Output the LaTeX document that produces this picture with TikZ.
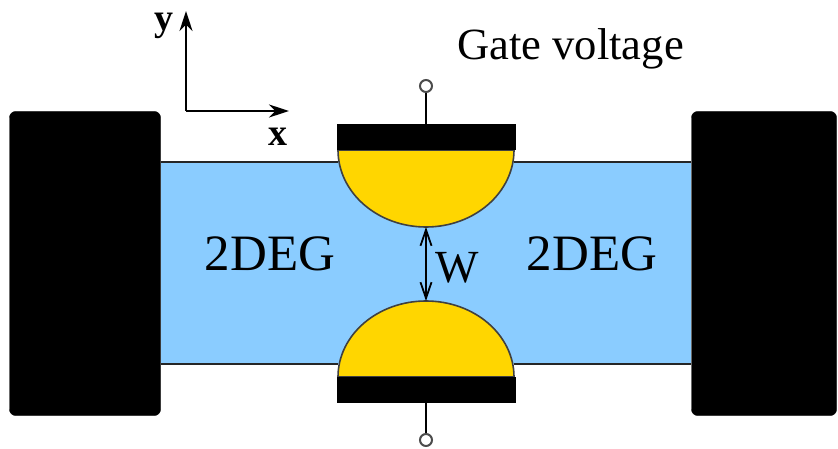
\documentclass[tikz,border=0pt]{standalone}
\usepackage{fontspec}
\setmainfont{Liberation Serif}
\usetikzlibrary{arrows.meta}
\definecolor{chan}{RGB}{138,204,255}
\definecolor{gold}{RGB}{255,214,0}
\tikzset{
  contact/.style={fill=black,draw=black,rounded corners=6pt,inner sep=0pt,minimum width=#1,minimum height=304pt},
  gatebar/.style={fill=black,draw=none,inner sep=0pt,minimum width=179pt,minimum height=26pt},
  terminal/.style={circle,draw=black!70,fill=white,line width=2pt,inner sep=0pt,minimum size=12pt},
  wire/.style={draw=black,line width=2pt},
  axis/.style={draw=black,line width=2.4pt,-{Stealth[length=20pt,width=13pt]}},
  gap/.style={draw=black,line width=1.8pt,{Straight Barb[length=16pt,width=11pt]}-{Straight Barb[length=16pt,width=11pt]}},
  edgeline/.style={draw=black!85,line width=1.8pt},
  lens/.style={fill=gold,draw=black!75,line width=1.6pt},
  lbl/.style={inner sep=0pt,text=black,font=\fontsize{44.6}{48}\selectfont},
  wlbl/.style={inner sep=0pt,text=black,font=\fontsize{46}{50}\selectfont},
  big/.style={inner sep=0pt,text=black,font=\fontsize{51}{55}\selectfont},
  axlbl/.style={inner sep=0pt,text=black,font=\fontsize{38}{42}\selectfont\bfseries}
}
\begin{document}
\begin{tikzpicture}[x=1pt,y=-1pt]
\useasboundingbox (0,0) rectangle (838,449);
% channel
\fill[chan] (161,162) rectangle (691,364);
\draw[edgeline] (161,162) -- (338,162) (514,162) -- (691,162);
\draw[edgeline] (161,364) -- (338,364) (514,364) -- (691,364);
% contacts
\node[contact=151pt] (lc) at (85,263.5) {};
\node[contact=145pt] (rc) at (764,263.5) {};
% gates
\path[lens] (338,150) arc[start angle=180,end angle=360,x radius=88,y radius=-77] -- cycle;
\path[lens] (338,377) arc[start angle=180,end angle=360,x radius=88,y radius=76] -- cycle;
\node[gatebar] (gt) at (426.5,137) {};
\node[gatebar] (gb) at (426.5,390) {};
\node[terminal] (tt) at (426,86) {};
\node[terminal] (tb) at (426,440) {};
\draw[wire] (tt) -- (tt|-gt.north);
\draw[wire] (tb) -- (tb|-gb.south);
% W
\coordinate (wt) at (426,227);
\coordinate (wb) at (426,301);
\draw[gap] (wt) -- (wb);
\node[wlbl] (w) at (457,268) {W};
% axes
\coordinate (o) at (186,111);
\coordinate (ay) at (186,11);
\coordinate (ax) at (289,111);
\draw[axis] (o) -- (ay);
\draw[axis] (o) -- (ax);
\node[axlbl,anchor=base] (ly) at (164,31) {y};
\node[axlbl,anchor=base] (lx) at (277.5,146) {x};
% labels
\node[big,anchor=base] (d1) at (270,270) {2DEG};
\node[big,anchor=base] (d2) at (592,270) {2DEG};
\node[lbl,anchor=base] (gv) at (570.5,60) {Gate voltage};
\end{tikzpicture}
\end{document}
